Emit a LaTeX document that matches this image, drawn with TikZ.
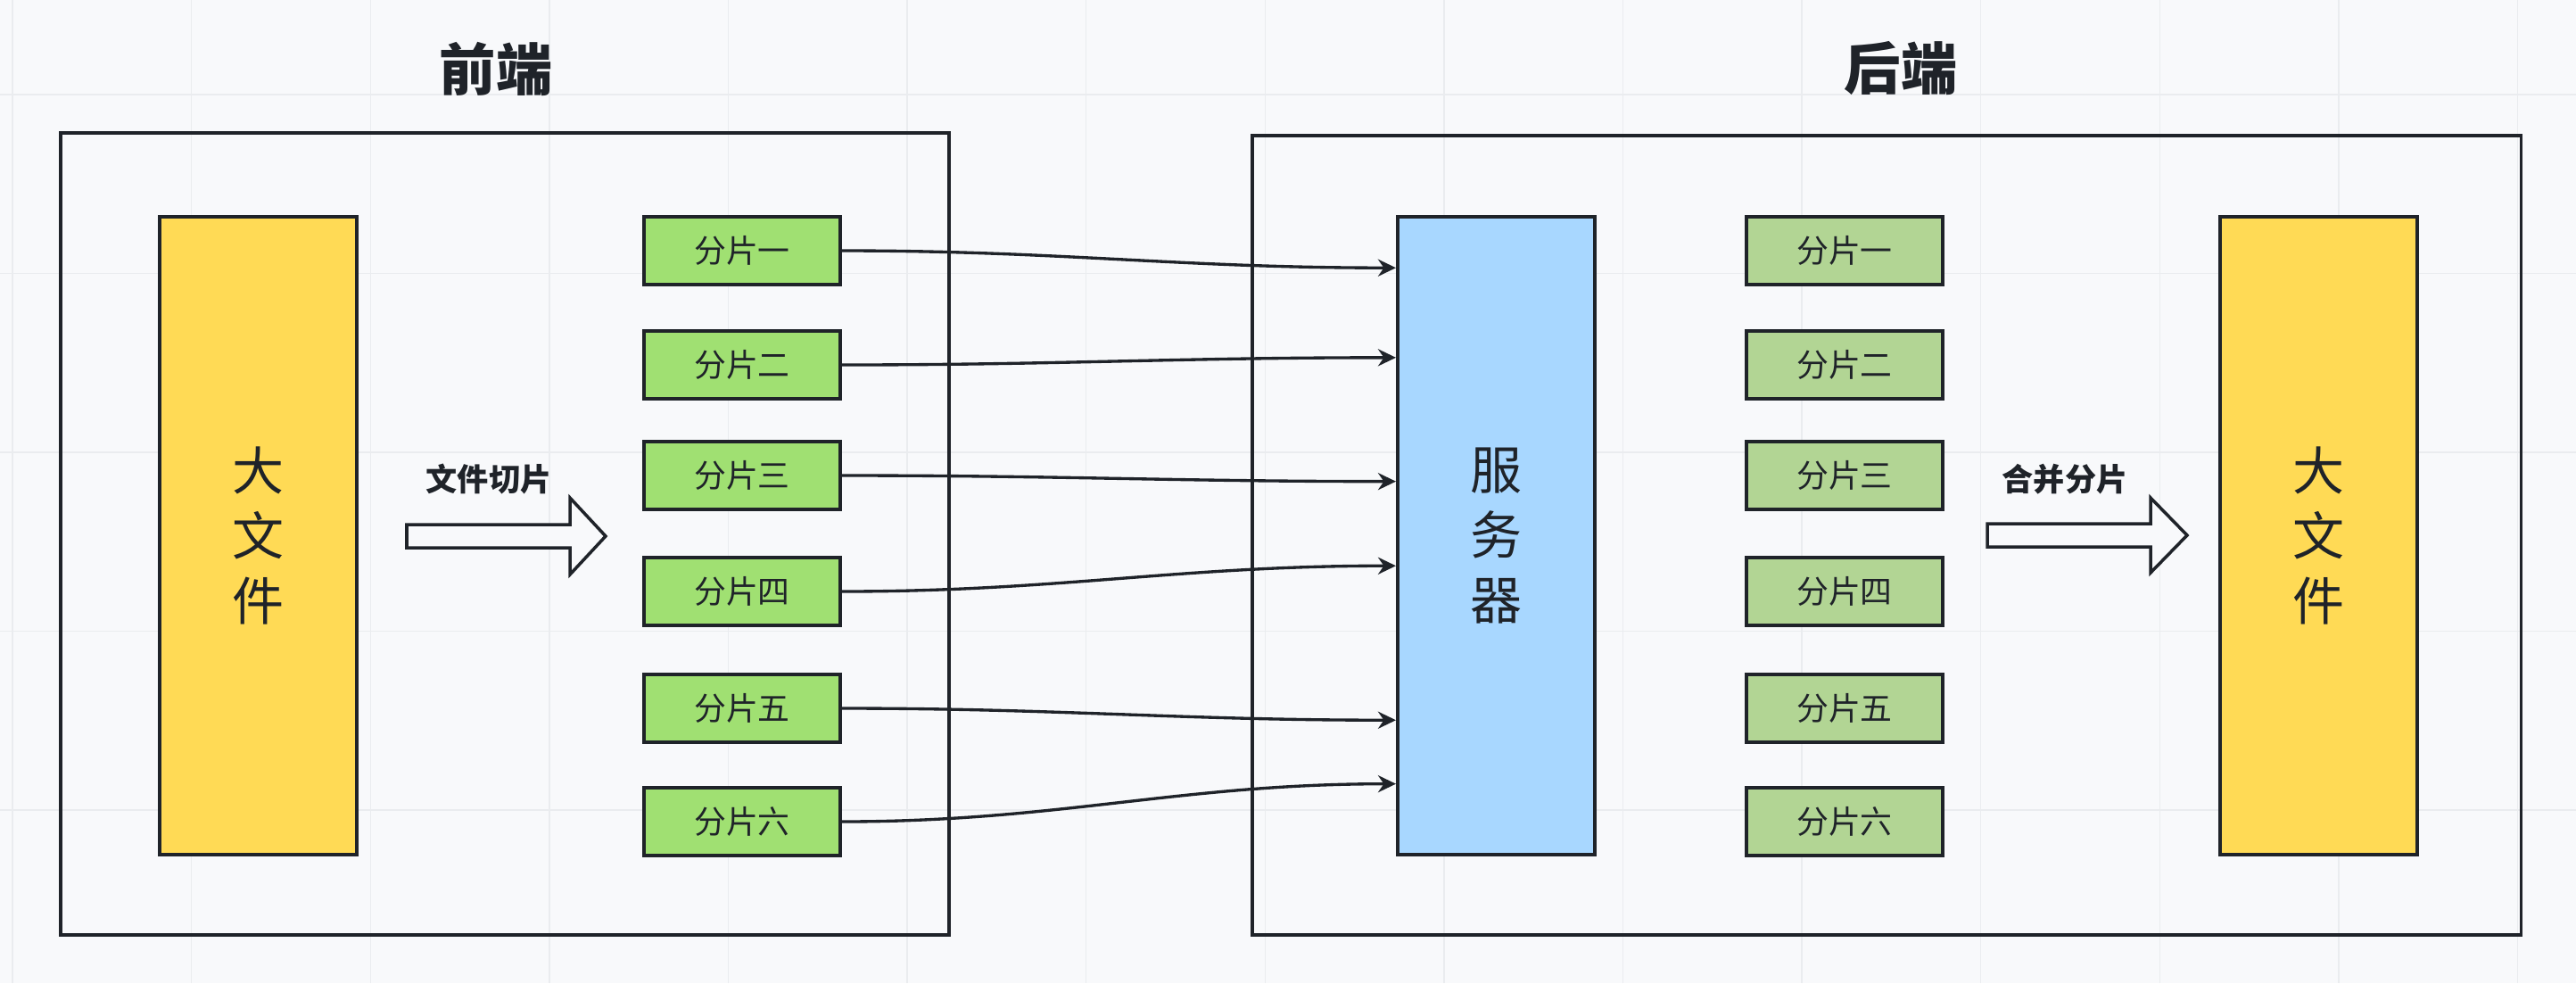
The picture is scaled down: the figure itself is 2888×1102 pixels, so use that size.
\documentclass[tikz,border=0pt]{standalone}
\usepackage{fontspec}
\setmainfont{Noto Sans CJK SC}
\usepackage{xcolor}
\usepackage{tikz}
\usetikzlibrary{arrows.meta,calc}

\definecolor{inkdark}{HTML}{1F2329}
\definecolor{canvasbg}{HTML}{F8F9FB}
\definecolor{gridgray}{HTML}{EAECEF}
\definecolor{fileyellow}{HTML}{FFDA55}
\definecolor{slicegreen}{HTML}{A0E072}
\definecolor{mergegreen}{HTML}{B2D594}
\definecolor{serverblue}{HTML}{A8D7FF}

\begin{document}
\begin{tikzpicture}[
    x=0.01cm, y=-0.01cm, color=inkdark,
    frame/.style={rectangle, draw, line width=1.1pt},
    bigfile/.style={rectangle, draw, line width=1.1pt, fill=fileyellow, minimum width=2.21cm, minimum height=7.15cm, align=center, inner sep=0pt, font=\fontsize{16.5pt}{20.8pt}\selectfont},
    slice/.style={rectangle, draw, line width=1.1pt, fill=slicegreen, minimum width=2.2cm, minimum height=0.76cm, inner sep=0pt, font=\fontsize{10.2pt}{12pt}\selectfont},
    title/.style={font=\fontsize{18pt}{20pt}\selectfont\bfseries},
    tag/.style={font=\fontsize{10pt}{12pt}\selectfont\bfseries},
    bigarrow/.style={draw, line width=1pt, fill=canvasbg, line join=miter},
    link/.style={-{Stealth[length=0.2cm, width=0.19cm]}, line width=0.95pt}
]
    % Canvas with grid
    \fill[canvasbg] (0,0) rectangle (2888,1102);
    \useasboundingbox (0,0) rectangle (2888,1102);
    \foreach \gx in {0,...,14}
        \draw[gridgray, line width=0.4pt] ({14+200.6*\gx},0) -- ({14+200.6*\gx},1102);
    \foreach \gy in {0,...,4}
        \draw[gridgray, line width=0.4pt] (0,{106+200.5*\gy}) -- (2888,{106+200.5*\gy});

    % Frontend
    \node[title] (fronttitle) at (556,77) {前端};
    \node[frame, minimum width=9.96cm, minimum height=8.99cm] (front) at (566,598.5) {};
    \node[bigfile] (rawfile) at (289.5,600.5) {大\\文\\件};

    \node[slice] (fa1) at (832,281) {分片一};
    \node[slice] (fa2) at (832,409) {分片二};
    \node[slice] (fa3) at (832,533) {分片三};
    \node[slice] (fa4) at (832,663) {分片四};
    \node[slice] (fa5) at (832,794) {分片五};
    \node[slice] (fa6) at (832,921) {分片六};

    % Cut step
    \node[tag] (cuttag) at (548,537) {文件切片};
    \draw[bigarrow] (456,588) -- (639,588) -- (639,558) -- (679,601) -- (639,644) -- (639,614) -- (456,614) -- cycle;

    % Backend
    \node[title] (backtitle) at (2131,77) {后端};
    \node[frame, minimum width=14.22cm, minimum height=8.96cm] (back) at (2115,600) {};
    \node[bigfile, fill=serverblue] (server) at (1677.5,600.5) {服\\务\\器};

    \node[slice, fill=mergegreen] (fb1) at (2068,281) {分片一};
    \node[slice, fill=mergegreen] (fb2) at (2068,409) {分片二};
    \node[slice, fill=mergegreen] (fb3) at (2068,533) {分片三};
    \node[slice, fill=mergegreen] (fb4) at (2068,663) {分片四};
    \node[slice, fill=mergegreen] (fb5) at (2068,794) {分片五};
    \node[slice, fill=mergegreen] (fb6) at (2068,921) {分片六};

    \node[bigfile] (mergedfile) at (2599.5,600.5) {大\\文\\件};

    % Merge step
    \node[tag] (mergetag) at (2315,537) {合并分片};
    \draw[bigarrow] (2228,587) -- (2411,587) -- (2411,558) -- (2452,600) -- (2411,642) -- (2411,613) -- (2228,613) -- cycle;

    % Upload links
    \draw[link] (fa1.east) to[out=0, in=180] ($(server.north west)!0.0825!(server.south west)$);
    \draw[link] (fa2.east) to[out=0, in=180] ($(server.north west)!0.2224!(server.south west)$);
    \draw[link] (fa3.east) to[out=0, in=180] ($(server.north west)!0.4154!(server.south west)$);
    \draw[link] (fa4.east) to[out=0, in=180] ($(server.north west)!0.5469!(server.south west)$);
    \draw[link] (fa5.east) to[out=0, in=180] ($(server.north west)!0.7874!(server.south west)$);
    \draw[link] (fa6.east) to[out=0, in=180] ($(server.north west)!0.8867!(server.south west)$);
\end{tikzpicture}
\end{document}
